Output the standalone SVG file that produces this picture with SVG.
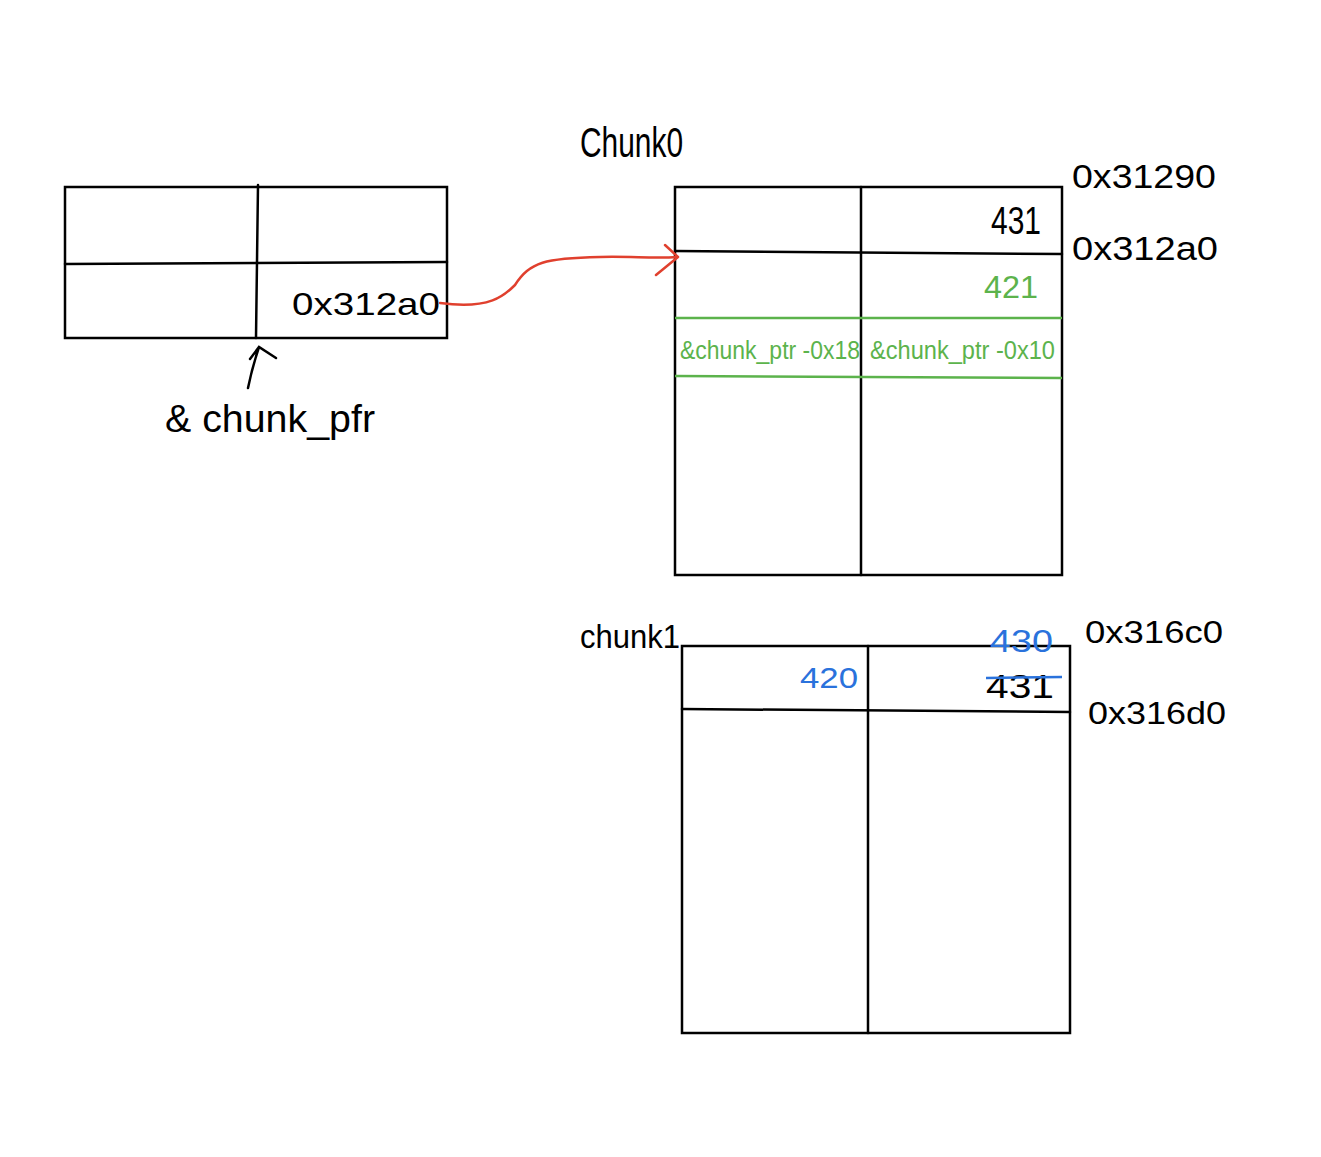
<svg xmlns="http://www.w3.org/2000/svg" width="1321" height="1157" viewBox="0 0 1321 1157">
<style>
.ln{stroke:#000;stroke-width:2.5;fill:none;stroke-linecap:round}
.gl{stroke:#5cb34c;stroke-width:2.5;fill:none}
.t{font-family:"Liberation Sans","DejaVu Sans",sans-serif;fill:#000}
.g{fill:#5cb34c}
.b{fill:#2a72dc}
</style>
<rect width="1321" height="1157" fill="#fff"/>
<g id="ptr-table">
<rect x="65" y="187" width="382" height="151" class="ln"/>
<line x1="65" y1="264" x2="447" y2="262" class="ln"/>
<line x1="258" y1="185" x2="256" y2="338" class="ln"/>
<text x="292" y="315" class="t" font-size="32" textLength="148" lengthAdjust="spacingAndGlyphs">0x312a0</text>
</g>
<g id="chunk-ptr-label">
<path d="M248,388 Q252,368 259,347 M250,359 L259,347 L276,358" class="ln"/>
<text x="165" y="432" class="t" font-size="38" textLength="210" lengthAdjust="spacingAndGlyphs">&amp; chunk_pfr</text>
</g>
<g id="chunk0">
<text x="580" y="157" class="t" font-size="42" textLength="103" lengthAdjust="spacingAndGlyphs">Chunk0</text>
<rect x="675" y="187" width="387" height="388" class="ln"/>
<line x1="861" y1="187" x2="861" y2="575" class="ln"/>
<line x1="675" y1="251" x2="1062" y2="254" class="ln"/>
<line x1="675" y1="318" x2="1062" y2="318" class="gl"/>
<line x1="675" y1="376" x2="1062" y2="378" class="gl"/>
<text x="991" y="234" class="t" font-size="38" textLength="50" lengthAdjust="spacingAndGlyphs">431</text>
<text x="984" y="298" class="t g" font-size="32" textLength="54" lengthAdjust="spacingAndGlyphs">421</text>
<text x="680" y="359" class="t g" font-size="26" textLength="180" lengthAdjust="spacingAndGlyphs">&amp;chunk_ptr -0x18</text>
<text x="870" y="359" class="t g" font-size="26" textLength="185" lengthAdjust="spacingAndGlyphs">&amp;chunk_ptr -0x10</text>
<text x="1072" y="188" class="t" font-size="34" textLength="144" lengthAdjust="spacingAndGlyphs">0x31290</text>
<text x="1072" y="260" class="t" font-size="34" textLength="146" lengthAdjust="spacingAndGlyphs">0x312a0</text>
</g>
<g id="chunk1">
<text x="580" y="648" class="t" font-size="34" textLength="100" lengthAdjust="spacingAndGlyphs">chunk1</text>
<rect x="682" y="646" width="388" height="387" class="ln"/>
<line x1="868" y1="646" x2="868" y2="1033" class="ln"/>
<line x1="682" y1="709" x2="1070" y2="712" class="ln"/>
<text x="800" y="688" class="t b" font-size="30" textLength="58" lengthAdjust="spacingAndGlyphs">420</text>
<text x="990" y="652" class="t b" font-size="32" textLength="63" lengthAdjust="spacingAndGlyphs">430</text>
<text x="986" y="698" class="t" font-size="34" textLength="68" lengthAdjust="spacingAndGlyphs">431</text>
<line x1="986" y1="678" x2="1062" y2="677" stroke="#2a72dc" stroke-width="2.5"/>
<text x="1085" y="643" class="t" font-size="32" textLength="138" lengthAdjust="spacingAndGlyphs">0x316c0</text>
<text x="1088" y="724" class="t" font-size="32" textLength="138" lengthAdjust="spacingAndGlyphs">0x316d0</text>
</g>
<g id="connectors">
<path d="M440,303 C490,310 505,295 515,285 C530,262 545,258 600,257 C630,256 655,259 677,257" stroke="#e0402e" stroke-width="2.5" fill="none" stroke-linecap="round"/>
<path d="M665,245 L678,257 L656,275" stroke="#e0402e" stroke-width="2.5" fill="none" stroke-linecap="round" stroke-linejoin="round"/>
</g>
</svg>
